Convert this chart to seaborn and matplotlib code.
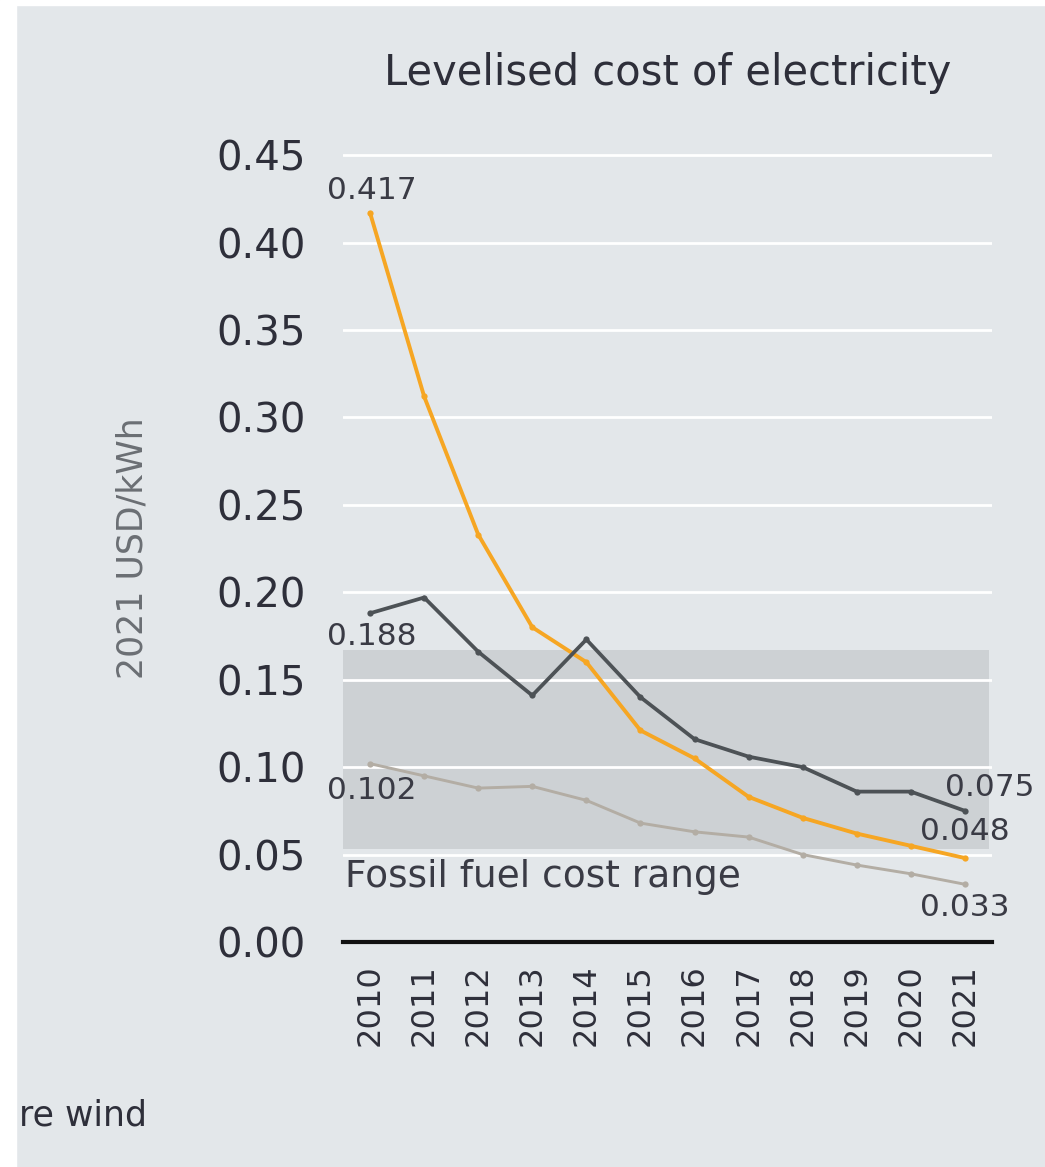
import matplotlib
matplotlib.use("Agg")
import matplotlib.pyplot as plt
import matplotlib.patches as mpatches
from matplotlib.ticker import FixedLocator
import seaborn as sns
import pandas as pd
import numpy as np

# ---- data -------------------------------------------------------------
years = ["2010", "2011", "2012", "2013", "2014", "2015",
         "2016", "2017", "2018", "2019", "2020", "2021"]
solar_pv = [0.417, 0.312, 0.233, 0.180, 0.160, 0.121,
            0.105, 0.083, 0.071, 0.062, 0.055, 0.048]
offshore_wind = [0.188, 0.197, 0.166, 0.141, 0.173, 0.140,
                 0.116, 0.106, 0.100, 0.086, 0.086, 0.075]
onshore_wind = [0.102, 0.095, 0.088, 0.089, 0.081, 0.068,
                0.063, 0.060, 0.050, 0.044, 0.039, 0.033]
fossil_low, fossil_high = 0.053, 0.167
y_ticks = [0.00, 0.05, 0.10, 0.15, 0.20, 0.25, 0.30, 0.35, 0.40, 0.45]

series_names = ["Solar PV", "Offshore wind", "Onshore wind"]
series_values = [solar_pv, offshore_wind, onshore_wind]
palette = {"Solar PV": "#f6a623", "Offshore wind": "#4d5256",
           "Onshore wind": "#b3ada4"}
widths = {"Solar PV": 2.8, "Offshore wind": 2.7, "Onshore wind": 2.1}

df = pd.DataFrame({
    "x": np.tile(np.arange(len(years)), len(series_names)),
    "year": years * len(series_names),
    "value": np.concatenate(series_values),
    "series": np.repeat(series_names, len(years)),
})

# ---- style ------------------------------------------------------------
bg = "#e3e7ea"
sns.set_theme(style="white")
plt.rcParams["font.family"] = ["DejaVu Sans"]
plt.rcParams["axes.facecolor"] = bg
plt.rcParams["figure.facecolor"] = bg

fig = plt.figure(figsize=(10.45, 11.67), dpi=100)
ax = fig.add_axes([343 / 1045, 1 - 942 / 1167, 649 / 1045, (942 - 153) / 1167])
ax.set_facecolor(bg)

# fossil fuel cost band
ax.axhspan(fossil_low, fossil_high, xmin=0, xmax=0.996,
           color="#cdd1d4", zorder=0.2, lw=0)

# series lines
for name in series_names:
    sub = df[df["series"] == name]
    sns.lineplot(data=sub, x="x", y="value", ax=ax, color=palette[name],
                 lw=widths[name], marker="o", markersize=4.5,
                 markeredgewidth=0, zorder=3, legend=False)

ax.set_xlim(-0.5, len(years) - 0.5)
ax.set_ylim(0, 0.4512)
ax.set_yticks(y_ticks)
ax.set_yticklabels([f"{t:.2f}" for t in y_ticks])
ax.set_xticks(np.arange(len(years)))
ax.set_xticklabels(years, rotation=90)
ax.xaxis.set_minor_locator(FixedLocator(np.arange(-0.5, len(years), 1.0)))

ax.set_axisbelow(True)
ax.yaxis.grid(True, color="white", lw=2.0)
ax.xaxis.grid(False)

for s in ["top", "right", "left"]:
    ax.spines[s].set_visible(False)
ax.spines["bottom"].set_color("#111111")
ax.spines["bottom"].set_linewidth(3.0)
ax.spines["bottom"].set_zorder(4)

ax.tick_params(axis="y", length=0, pad=27, labelsize=29, labelcolor="#2e2f3a")
ax.tick_params(axis="x", which="major", length=0, pad=16, labelsize=23,
               labelcolor="#2e2f3a")
ax.tick_params(axis="x", which="minor", direction="out", length=4,
               width=2.0, color="#111111")
ax.set_xlabel("")
ax.set_ylabel("")

# value labels
lab_kw = dict(textcoords="offset points", fontsize=22.5, color="#3a3b45",
              annotation_clip=False, zorder=5)
last = len(years) - 1
ax.annotate(f"{solar_pv[0]:.3f}", (0, solar_pv[0]), xytext=(1, 16),
            ha="center", va="center", **lab_kw)
ax.annotate(f"{offshore_wind[0]:.3f}", (0, offshore_wind[0]), xytext=(1, -17),
            ha="center", va="center", **lab_kw)
ax.annotate(f"{onshore_wind[0]:.3f}", (0, onshore_wind[0]), xytext=(1, -19),
            ha="center", va="center", **lab_kw)
ax.annotate(f"{offshore_wind[last]:.3f}", (last, offshore_wind[last]),
            xytext=(18, 17), ha="center", va="center", **lab_kw)
ax.annotate(f"{solar_pv[last]:.3f}", (last, solar_pv[last]), xytext=(0, 19),
            ha="center", va="center", **lab_kw)
ax.annotate(f"{onshore_wind[last]:.3f}", (last, onshore_wind[last]),
            xytext=(0, -17), ha="center", va="center", **lab_kw)

ax.text(0.003, 0.037, "Fossil fuel cost range", transform=ax.get_yaxis_transform(),
        ha="left", va="center", fontsize=27, color="#3a3b45", zorder=5)

# titles and labels
fig.text(668 / 1045, 1 - 73 / 1167, "Levelised cost of electricity",
         ha="center", va="center", fontsize=30, color="#2e2f3a")
fig.text(133 / 1045, 1 - 548 / 1167, "2021 USD/kWh", rotation=90,
         ha="center", va="center", fontsize=25, color="#6b6f74",
         family=["Liberation Sans Narrow", "DejaVu Sans"])
fig.text(147 / 1045, 1 - 1115 / 1167, "re wind", ha="right",
         va="center", fontsize=25, color="#2e2f3a")

# white margins at left and top edges
fig.patches.append(mpatches.Rectangle((0, 0), 16 / 1045, 1,
                                      transform=fig.transFigure,
                                      color="white", zorder=10))
fig.patches.append(mpatches.Rectangle((0, 1 - 5 / 1167), 1, 5 / 1167,
                                      transform=fig.transFigure,
                                      color="white", zorder=10))

fig.savefig("out.png", dpi=100, facecolor=bg)
